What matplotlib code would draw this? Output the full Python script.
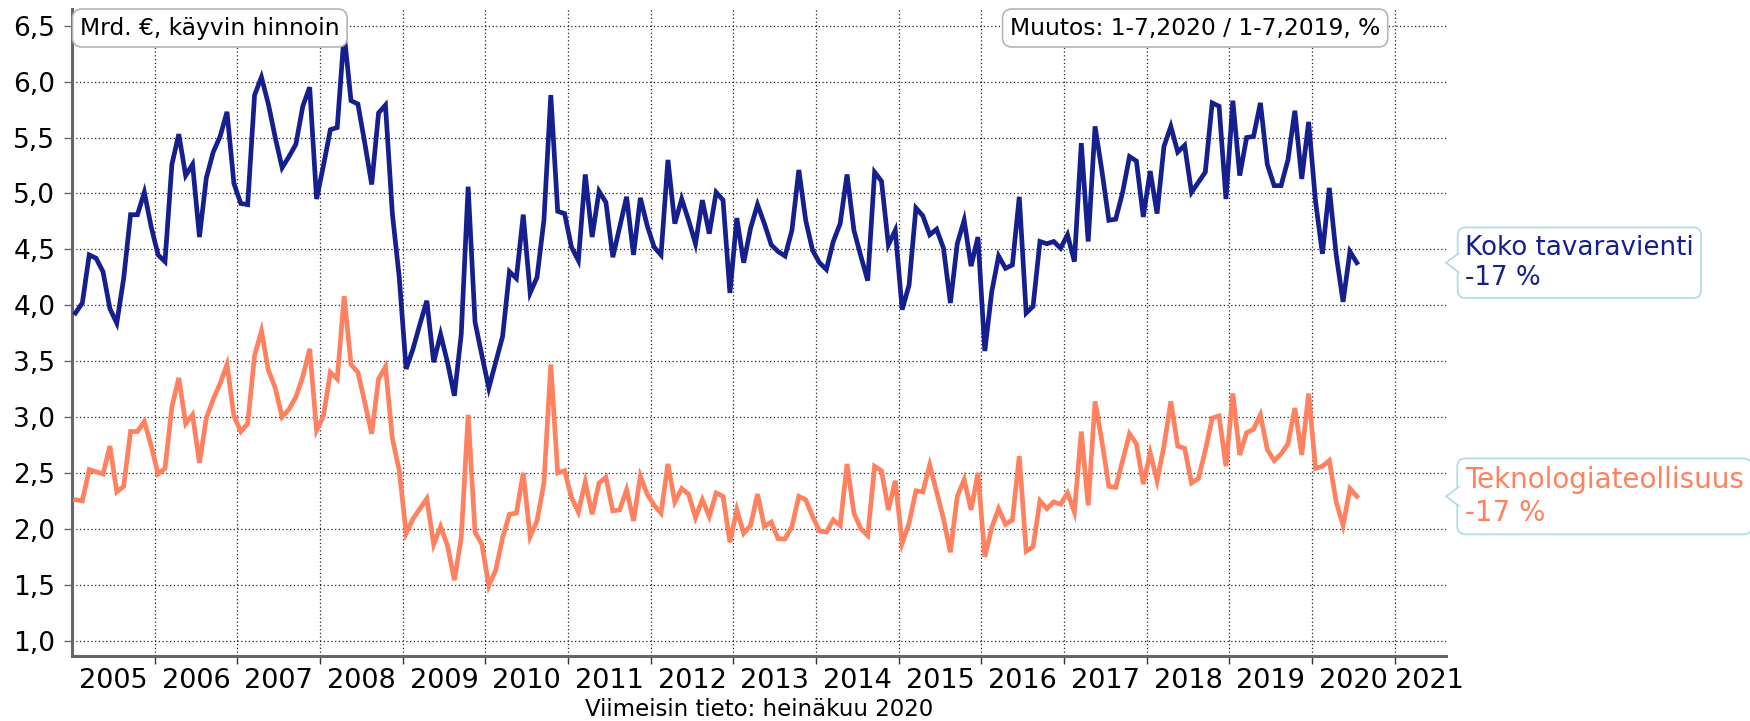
import numpy as np
import pandas as pd
import matplotlib
matplotlib.use("Agg")
import matplotlib.pyplot as plt
from matplotlib import transforms
from matplotlib.patches import Polygon

# Kuukausiarvot, mrd. € (tammikuu 2005 - heinäkuu 2020)
koko = [
    3.93, 4.02, 4.45, 4.42, 4.30, 3.97, 3.84, 4.24, 4.81, 4.81, 5.01, 4.70,  # 2005
    4.45, 4.39, 5.26, 5.53, 5.16, 5.26, 4.61, 5.14, 5.37, 5.51, 5.73, 5.09,  # 2006
    4.91, 4.90, 5.88, 6.04, 5.80, 5.50, 5.23, 5.33, 5.44, 5.78, 5.95, 4.95,  # 2007
    5.25, 5.57, 5.59, 6.43, 5.83, 5.80, 5.45, 5.08, 5.72, 5.79, 4.82, 4.25,  # 2008
    3.43, 3.61, 3.83, 4.04, 3.49, 3.74, 3.49, 3.19, 3.74, 5.06, 3.85, 3.55,  # 2009
    3.26, 3.49, 3.72, 4.30, 4.24, 4.81, 4.11, 4.25, 4.76, 5.88, 4.84, 4.82,  # 2010
    4.52, 4.40, 5.17, 4.61, 5.02, 4.92, 4.43, 4.70, 4.97, 4.45, 4.96, 4.71,  # 2011
    4.52, 4.45, 5.30, 4.73, 4.95, 4.76, 4.55, 4.94, 4.64, 5.01, 4.94, 4.11,  # 2012
    4.78, 4.38, 4.69, 4.90, 4.73, 4.54, 4.48, 4.44, 4.67, 5.21, 4.76, 4.49,  # 2013
    4.38, 4.32, 4.57, 4.73, 5.17, 4.67, 4.44, 4.22, 5.19, 5.11, 4.54, 4.67,  # 2014
    3.96, 4.18, 4.87, 4.80, 4.63, 4.68, 4.51, 4.02, 4.55, 4.76, 4.35, 4.61,  # 2015
    3.59, 4.12, 4.44, 4.33, 4.36, 4.97, 3.93, 3.99, 4.57, 4.55, 4.57, 4.51,  # 2016
    4.63, 4.39, 5.45, 4.57, 5.60, 5.20, 4.76, 4.77, 5.01, 5.33, 5.29, 4.79,  # 2017
    5.20, 4.82, 5.42, 5.60, 5.37, 5.43, 5.01, 5.10, 5.19, 5.81, 5.78, 4.95,  # 2018
    5.83, 5.16, 5.50, 5.51, 5.81, 5.26, 5.07, 5.07, 5.30, 5.74, 5.13, 5.64,  # 2019
    4.93, 4.46, 5.05, 4.45, 4.03, 4.48, 4.38,                                # 2020
]
tekno = [
    2.26, 2.25, 2.53, 2.51, 2.49, 2.74, 2.33, 2.38, 2.87, 2.87, 2.96, 2.74,  # 2005
    2.49, 2.54, 3.09, 3.35, 2.94, 3.02, 2.59, 2.99, 3.16, 3.30, 3.47, 3.01,  # 2006
    2.87, 2.94, 3.55, 3.77, 3.42, 3.26, 3.00, 3.07, 3.18, 3.36, 3.61, 2.88,  # 2007
    3.01, 3.40, 3.34, 4.08, 3.47, 3.40, 3.13, 2.85, 3.34, 3.45, 2.81, 2.52,  # 2008
    1.96, 2.09, 2.18, 2.27, 1.86, 2.02, 1.85, 1.54, 1.92, 3.02, 1.97, 1.86,  # 2009
    1.49, 1.63, 1.92, 2.13, 2.14, 2.50, 1.93, 2.07, 2.41, 3.47, 2.50, 2.52,  # 2010
    2.28, 2.15, 2.42, 2.13, 2.41, 2.46, 2.16, 2.17, 2.35, 2.07, 2.47, 2.31,  # 2011
    2.21, 2.14, 2.58, 2.24, 2.36, 2.31, 2.10, 2.26, 2.11, 2.32, 2.29, 1.88,  # 2012
    2.17, 1.96, 2.03, 2.31, 2.02, 2.06, 1.91, 1.91, 2.02, 2.29, 2.26, 2.11,  # 2013
    1.98, 1.97, 2.08, 2.03, 2.58, 2.14, 2.00, 1.94, 2.56, 2.52, 2.17, 2.43,  # 2014
    1.87, 2.05, 2.34, 2.33, 2.57, 2.33, 2.09, 1.79, 2.29, 2.44, 2.17, 2.50,  # 2015
    1.75, 2.01, 2.18, 2.04, 2.08, 2.65, 1.80, 1.84, 2.25, 2.18, 2.24, 2.22,  # 2016
    2.32, 2.15, 2.87, 2.21, 3.14, 2.78, 2.38, 2.37, 2.61, 2.85, 2.76, 2.40,  # 2017
    2.68, 2.43, 2.74, 3.14, 2.74, 2.72, 2.41, 2.45, 2.70, 2.99, 3.01, 2.56,  # 2018
    3.21, 2.66, 2.86, 2.89, 3.02, 2.71, 2.61, 2.67, 2.76, 3.08, 2.66, 3.21,  # 2019
    2.54, 2.56, 2.61, 2.24, 2.03, 2.36, 2.29,                                # 2020
]
series_names = ["Koko tavaravienti", "Teknologiateollisuus"]
muutos = ["-17 %", "-17 %"]
colors = ["#151f8e", "#ff8160"]
label_sizes = [18.8, 20.0]
years = np.arange(2005, 2022)
y_ticks = np.arange(1.0, 6.51, 0.5)

dates = pd.date_range("2005-01-01", periods=len(koko), freq="MS")
t = dates.year + (dates.month - 0.5) / 12

x_min, x_max = 2005.0, 2021.62
grid_kw = dict(color="#222222", linestyle=(0, (1, 2)), linewidth=0.9)

fig = plt.figure(figsize=(17.5, 7.21), dpi=100)
ax = fig.add_axes([72 / 1750, 65 / 721, (1446 - 72) / 1750, (656 - 9) / 721])

for vals, col in zip([koko, tekno], colors):
    ax.plot(t, vals, color=col, lw=3.4, solid_joinstyle="miter", zorder=3)

ax.set_xlim(x_min, x_max)
ax.set_ylim(0.862, 6.65)

ax.set_yticks(y_ticks)
ax.set_yticklabels([f"{v:.1f}".replace(".", ",") for v in y_ticks])
ax.set_xticks(years[1:])
ax.set_xticklabels([])
ax.set_xticks(np.minimum(years + 0.5, x_max - 0.2), minor=True)
ax.set_xticklabels([str(y) for y in years], minor=True)

ax.grid(True, which="major", **grid_kw)
ax.tick_params(axis="y", labelsize=19, length=6, width=1, color="#666666", pad=6)
ax.tick_params(axis="x", which="major", length=6, width=1, color="#333333")
ax.tick_params(axis="x", which="minor", labelsize=19.5, length=0, pad=9)

for s in ["top", "right"]:
    ax.spines[s].set_visible(False)
for s in ["left", "bottom"]:
    ax.spines[s].set_color("#666666")
    ax.spines[s].set_linewidth(2.2)

# info boxes
box_kw = dict(boxstyle="round,pad=0.32,rounding_size=0.4", fc="white", ec="#b5b5b5", lw=1.2)
fig.text(80 / 1750, 1 - 28 / 721, "Mrd. €, käyvin hinnoin", fontsize=16.8,
         ha="left", va="center", bbox=box_kw)
fig.text(1010 / 1750, 1 - 28 / 721, "Muutos: 1-7,2020 / 1-7,2019, %", fontsize=16.8,
         ha="left", va="center", bbox=box_kw)

# callouts at the last value
for vals, name, ch, col, fs in zip([koko, tekno], series_names, muutos, colors, label_sizes):
    last = vals[-1]
    ax.annotate(f"{name}\n{ch}", xy=(x_max, last), xytext=(19, 0),
                textcoords="offset pixels", ha="left", va="center",
                fontsize=fs, color=col, linespacing=1.2, annotation_clip=False,
                bbox=dict(boxstyle="round,pad=0.28,rounding_size=0.3", fc="white",
                          ec="#b4dcea", lw=1.3), zorder=5)
    trans = fig.dpi_scale_trans + transforms.ScaledTranslation(x_max, last, ax.transData)
    tri = Polygon([(0.135, 0.1), (0.0, 0.0), (0.135, -0.1)], closed=False,
                  transform=trans, fc="white", ec="#b4dcea", lw=1.3,
                  clip_on=False, zorder=6)
    ax.add_patch(tri)

fig.text(759 / 1750, 1 - 710 / 721, "Viimeisin tieto: heinäkuu 2020", fontsize=16.5,
         ha="center", va="center")

fig.savefig("out.png", dpi=100)
